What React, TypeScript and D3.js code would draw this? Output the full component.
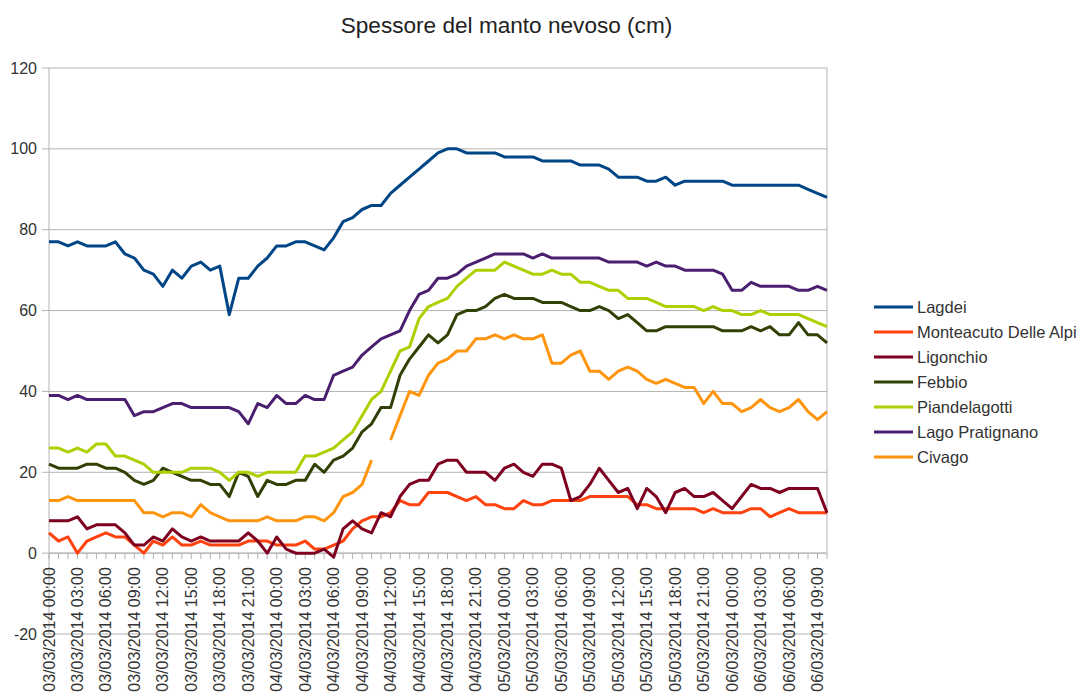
import * as d3 from 'd3'

const START = new Date(2014, 2, 3, 0, 0)
const fmt = d3.timeFormat('%d/%m/%Y %H:%M')
// one category per hour, 03/03/2014 00:00 -> 06/03/2014 10:00
const categories = d3.range(83).map(i => fmt(d3.timeHour.offset(START, i)))

const lagdei = [
  77, 77, 76, 77, 76, 76, 76, 77, 74, 73, 70, 69, 66, 70, 68, 71, 72, 70, 71, 59, 68, 68, 71, 73, 76, 76, 77,
  77, 76, 75, 78, 82, 83, 85, 86, 86, 89, 91, 93, 95, 97, 99, 100,
  100, 99, 99, 99, 99, 98, 98, 98, 98, 97, 97, 97, 97, 96, 96, 96, 95, 93,
  93, 93, 92, 92, 93, 91, 92, 92, 92, 92, 92, 91, 91, 91, 91, 91, 91, 91, 91, 90, 89, 88,
]
const monteacuto = [
  5, 3, 4, 0, 3, 4, 5, 4, 4, 2, 0, 3, 2, 4, 2, 2, 3, 2, 2, 2, 2, 3, 3, 3, 2, 2, 2,
  3, 1, 1, 2, 3, 6, 8, 9, 9, 10, 13, 12, 12, 15, 15, 15, 14, 13, 14, 12, 12, 11, 11, 13, 12, 12, 13, 13, 13, 13,
  14, 14, 14, 14, 14, 12, 12, 11, 11, 11, 11, 11, 10, 11, 10, 10, 10, 11, 11, 9, 10, 11, 10, 10, 10, 10,
]
const ligonchio = [
  8, 8, 8, 9, 6, 7, 7, 7, 5, 2, 2, 4, 3, 6, 4, 3, 4, 3, 3, 3, 3, 5, 3, 0, 4, 1, 0,
  0, 0, 1, -1, 6, 8, 6, 5, 10, 9, 14, 17, 18, 18, 22, 23, 23, 20, 20, 20, 18, 21, 22, 20, 19, 22, 22, 21, 13, 14,
  17, 21, 18, 15, 16, 11, 16, 14, 10, 15, 16, 14, 14, 15, 13, 11, 14, 17, 16, 16, 15, 16, 16, 16, 16, 10,
]
const febbio = [
  22, 21, 21, 21, 22, 22, 21, 21, 20, 18, 17, 18, 21, 20, 19, 18, 18, 17, 17, 14, 20, 19, 14, 18, 17, 17, 18,
  18, 22, 20, 23, 24, 26, 30, 32, 36, 36, 44, 48, 51, 54, 52, 54,
  59, 60, 60, 61, 63, 64, 63, 63, 63, 62, 62, 62, 61, 60,
  60, 61, 60, 58, 59, 57, 55, 55, 56, 56, 56, 56, 56, 56, 55, 55, 55, 56, 55, 56, 54, 54, 57, 54, 54, 52,
]
const piandelagotti = [
  26, 26, 25, 26, 25, 27, 27, 24, 24, 23, 22, 20, 20, 20, 20, 21, 21, 21, 20, 18, 20, 20, 19, 20, 20, 20, 20,
  24, 24, 25, 26, 28, 30, 34, 38, 40, 45, 50, 51, 58, 61, 62, 63, 66, 68, 70, 70, 70, 72, 71, 70, 69, 69, 70, 69, 69, 67,
  67, 66, 65, 65, 63, 63, 63, 62, 61, 61, 61, 61, 60, 61, 60, 60, 59, 59, 60, 59, 59, 59, 59, 58, 57, 56,
]
const pratignano = [
  39, 39, 38, 39, 38, 38, 38, 38, 38, 34, 35, 35, 36, 37, 37, 36, 36, 36, 36, 36, 35, 32, 37, 36, 39, 37, 37, 39, 38, 38, 44,
  45, 46,
  49, 51, 53, 54, 55, 60, 64, 65, 68, 68, 69, 71, 72, 73, 74, 74, 74, 74, 73, 74, 73, 73, 73, 73,
  73, 73, 72, 72, 72, 72, 71, 72, 71, 71, 70, 70, 70, 70, 69, 65, 65, 67, 66, 66, 66, 66, 65, 65, 66, 65,
]
const civago: (number | null)[] = [
  13, 13, 14, 13, 13, 13, 13, 13, 13, 13, 10, 10, 9, 10, 10, 9, 12, 10, 9, 8, 8, 8, 8, 9, 8, 8, 8,
  9, 9, 8, 10, 14, 15, 17, 23,
  null,
  28, 34, 40, 39, 44, 47, 48, 50, 50, 53, 53, 54, 53, 54, 53, 53, 54, 47, 47, 49, 50,
  45, 45, 43, 45, 46, 45, 43, 42, 43, 42, 41, 41, 37, 40, 37, 37, 35, 36, 38, 36, 35, 36, 38, 35, 33, 35,
]

const seriesNames = ['Lagdei', 'Monteacuto Delle Alpi', 'Ligonchio', 'Febbio', 'Piandelagotti', 'Lago Pratignano', 'Civago']
const seriesColors = ['#004586', '#ff420e', '#7e0021', '#314004', '#aecf00', '#4b1f6f', '#ff950e']
const seriesValues = [lagdei, monteacuto, ligonchio, febbio, piandelagotti, pratignano, civago]
const yTicks = [-20, 0, 20, 40, 60, 80, 100, 120]

const FONT = '"Liberation Sans", Arial, sans-serif'

export default function App() {
  const width = 1081
  const height = 695
  const left = 49
  const right = 827
  const top = 68
  const bottom = 634

  const x = d3.scalePoint<string>().domain(categories).range([left, right])
  const y = d3.scaleLinear().domain([-20, 120]).range([bottom, top])
  const y0 = y(0)

  const line = d3.line<number | null>()
    .defined(d => d != null)
    .x((_, i) => x(categories[i]) ?? 0)
    .y(d => y(d as number))

  return (
    <svg width={width} height={height} style={{position: 'absolute', left: 0, top: 0, background: '#fff'}} fontFamily={FONT}>
      <text x={506.5} y={32.5} textAnchor={'middle'} fontSize={22.6} fill={'#222'}>
        Spessore del manto nevoso (cm)
      </text>

      {/* grid + y axis */}
      {yTicks.map(t => (
        <g key={t}>
          <line x1={left - 7} x2={right} y1={y(t)} y2={y(t)} stroke={'#b3b3b3'} strokeWidth={1} />
          <text x={37} y={y(t) + 5.5} textAnchor={'end'} fontSize={16} fill={'#333'}>{t}</text>
        </g>
      ))}
      <line x1={left} x2={left} y1={top} y2={bottom} stroke={'#b3b3b3'} strokeWidth={1} />
      <line x1={right} x2={right} y1={top} y2={y0} stroke={'#b3b3b3'} strokeWidth={1} />

      {/* x axis at 0 */}
      <line x1={left} x2={right} y1={y0} y2={y0} stroke={'#b3b3b3'} strokeWidth={1} />
      {categories.map(c => (
        <line key={c} x1={x(c)} x2={x(c)} y1={y0} y2={y0 + 6} stroke={'#b3b3b3'} strokeWidth={1} />
      ))}
      {categories.filter((_, i) => i % 3 === 0).map(c => (
        <text
          key={c}
          transform={`translate(${(x(c) ?? 0) + 5.5}, ${y0 + 14}) rotate(-90)`}
          textAnchor={'end'}
          fontSize={16}
          fill={'#333'}
        >
          {c}
        </text>
      ))}

      {/* series */}
      <g fill={'none'} strokeWidth={3} strokeLinejoin={'round'}>
        {seriesValues.map((vals, k) => (
          <path key={seriesNames[k]} d={line(vals) ?? undefined} stroke={seriesColors[k]} />
        ))}
      </g>

      {/* legend */}
      <g fontSize={16.5} fill={'#333'}>
        {seriesNames.map((name, k) => (
          <g key={name} transform={`translate(874, ${307 + k * 25})`}>
            <line x1={0} x2={39} y1={0} y2={0} stroke={seriesColors[k]} strokeWidth={3} />
            <text x={43} y={6}>{name}</text>
          </g>
        ))}
      </g>
    </svg>
  )
}
